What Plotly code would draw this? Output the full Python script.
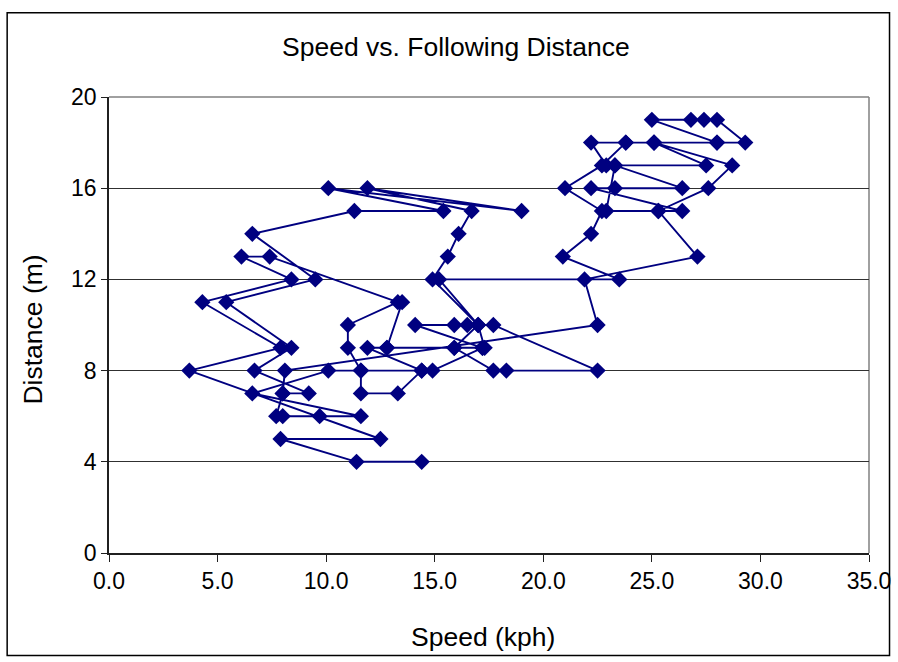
import plotly.graph_objects as go

# Speed (kph) and following distance (m), in recorded order
speed = [
    14.4, 11.4, 7.9, 12.5, 3.7, 7.9, 4.3, 8.4, 6.1, 7.4, 13.3, 11.0, 11.0, 11.6,
    10.1, 6.6, 11.6, 9.7, 8.0, 7.7, 8.0, 9.2, 6.7, 8.4, 5.4, 9.5, 6.6, 11.3,
    15.4, 10.1, 19.0, 11.9, 16.7, 16.1, 15.6, 14.9, 17.0, 15.9, 12.8, 13.5, 12.8,
    11.9, 14.4, 13.3, 11.6, 11.6, 14.4, 14.9, 17.2, 14.1, 15.9, 16.5, 17.7, 22.5,
    18.3, 17.7, 15.9, 17.2, 17.3, 17.0, 15.2, 23.5, 20.9, 22.2, 22.7, 21.0, 22.7,
    23.8, 22.2, 22.9, 23.3, 27.5, 25.1, 23.8, 25.1, 28.0, 25.0, 26.8, 27.4, 28.0,
    29.3, 28.0, 25.1, 28.7, 27.6, 25.3, 26.4, 22.2, 23.3, 26.4, 23.3, 22.9, 25.3,
    27.1, 21.9, 22.5, 8.1, 8.0,
]
distance = [
    4, 4, 5, 5, 8, 9, 11, 12, 13, 13, 11, 10, 9, 8,
    8, 7, 6, 6, 6, 6, 7, 7, 8, 9, 11, 12, 14, 15,
    15, 16, 15, 16, 15, 14, 13, 12, 10, 9, 9, 11, 9,
    9, 8, 7, 7, 8, 8, 8, 9, 10, 10, 10, 10, 8,
    8, 8, 9, 9, 9, 10, 12, 12, 13, 14, 15, 16, 17,
    18, 18, 17, 17, 17, 18, 18, 18, 18, 19, 19, 19, 19,
    18, 18, 18, 17, 16, 15, 15, 16, 16, 16, 17, 15, 15,
    13, 12, 10, 8, 7,
]

x_ticks = [0, 5, 10, 15, 20, 25, 30, 35]
y_ticks = [0, 4, 8, 12, 16, 20]

NAVY = "#000080"
FONT = "Liberation Sans, Arial, sans-serif"

fig = go.Figure()
fig.add_trace(go.Scatter(
    x=speed, y=distance, mode="lines+markers",
    line=dict(color=NAVY, width=1.9),
    marker=dict(symbol="diamond", size=12.5, color=NAVY),
    showlegend=False, cliponaxis=False,
))

fig.update_layout(
    width=898, height=662,
    margin=dict(l=109, r=29, t=97, b=109),
    paper_bgcolor="white", plot_bgcolor="white",
    font=dict(family=FONT, color="black", size=23),
    showlegend=False,
    annotations=[
        dict(text="Speed vs. Following Distance", xref="paper", yref="paper",
             x=0.457, y=1.0, yshift=50, xanchor="center", yanchor="middle",
             showarrow=False, font=dict(size=26.5)),
        dict(text="Speed (kph)", xref="paper", yref="paper",
             x=0.492, y=0, yshift=-84, xanchor="center", yanchor="middle",
             showarrow=False, font=dict(size=26.5)),
        dict(text="Distance (m)", xref="paper", yref="paper",
             x=0, xshift=-76, y=0.49, xanchor="center", yanchor="middle",
             textangle=-90, showarrow=False, font=dict(size=26.5)),
    ],
    shapes=[
        # outer chart frame
        dict(type="rect", xref="paper", yref="paper",
             x0=-0.134, x1=1.027, y0=-0.225, y1=1.185,
             line=dict(color="black", width=1.5)),
        # grey top and right edges of the plot area
        dict(type="line", xref="paper", yref="paper", x0=0, x1=1, y0=1, y1=1,
             line=dict(color="#808080", width=1.5), layer="below"),
        dict(type="line", xref="paper", yref="paper", x0=1, x1=1, y0=0, y1=1,
             line=dict(color="#808080", width=1.5), layer="below"),
    ],
)

fig.update_xaxes(
    range=[0, 35], tickvals=x_ticks, tickformat=".1f", automargin=False,
    showgrid=False, zeroline=False,
    showline=True, linecolor="#202020", linewidth=1.5,
    ticks="outside", ticklen=7, tickcolor="#202020", tickwidth=1,
)
fig.update_yaxes(
    range=[0, 20], tickvals=y_ticks, automargin=False,
    showgrid=True, gridcolor="#303030", gridwidth=1,
    zeroline=False,
    showline=True, linecolor="#202020", linewidth=1.5,
    ticks="outside", ticklen=6, tickcolor="#202020", tickwidth=1,
)

fig.write_html("out.html")
